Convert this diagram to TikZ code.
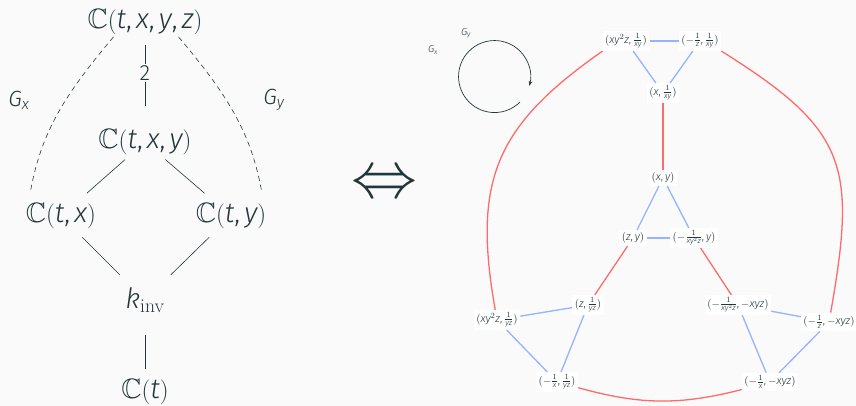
\documentclass[tikz,border=0pt]{standalone}
\usepackage{amsmath,amssymb}
\usepackage{fontspec}
\setmainfont{Fira Sans Light}[NFSSFamily=firasans, ItalicFont={Fira Sans Light Italic}, BoldFont={Fira Sans}]
\DeclareSymbolFont{sfitalic}{TU}{firasans}{m}{it}
\DeclareSymbolFont{sfupright}{TU}{firasans}{m}{n}
\DeclareMathSymbol{t}{\mathalpha}{sfitalic}{`t}
\DeclareMathSymbol{x}{\mathalpha}{sfitalic}{`x}
\DeclareMathSymbol{y}{\mathalpha}{sfitalic}{`y}
\DeclareMathSymbol{z}{\mathalpha}{sfitalic}{`z}
\DeclareMathSymbol{k}{\mathalpha}{sfitalic}{`k}
\DeclareMathSymbol{G}{\mathalpha}{sfitalic}{`G}
\DeclareMathSymbol{1}{\mathalpha}{sfupright}{`1}
\DeclareMathSymbol{2}{\mathalpha}{sfupright}{`2}
\DeclareMathSymbol{(}{\mathopen}{sfupright}{"28}
\DeclareMathSymbol{)}{\mathclose}{sfupright}{"29}
\DeclareMathSymbol{,}{\mathpunct}{sfupright}{"2C}
\newcommand{\lmtext}[1]{\text{\fontfamily{lmr}\selectfont #1}}
\usetikzlibrary{arrows.meta}
\definecolor{mbg}{HTML}{FAFAFA}
\definecolor{mteal}{HTML}{23373B}
\definecolor{ered}{HTML}{FF6B6B}
\definecolor{eblue}{HTML}{94B4FF}
\tikzset{
  field/.style={font=\fontsize{28}{32}\selectfont, inner sep=2pt},
  glabel/.style={font=\fontsize{22}{26}\selectfont, inner sep=2pt},
  orbit/.style={fill=white, inner sep=2.5pt, font=\fontsize{11}{13}\selectfont},
  redge/.style={draw=ered, line width=1.3pt},
  bedge/.style={draw=eblue, line width=1.3pt},
  tower/.style={line width=0.6pt, shorten <=4pt, shorten >=12pt},
  galois/.style={line width=0.6pt, dash pattern=on 5pt off 4pt}
}
\begin{document}
\begin{tikzpicture}[x=1pt,y=1pt,mteal]
  \fill[mbg] (0,0) rectangle (856,-406);
  \useasboundingbox (0,0) rectangle (856,-406);

  % Field tower
  \node[field] (ctxyz) at (145,-22) {$\mathbb{C}(t,x,y,z)$};
  \node[field] (ctxy) at (145,-142) {$\mathbb{C}(t,x,y)$};
  \node[field] (ctx) at (61,-216) {$\mathbb{C}(t,x)$};
  \node[field] (cty) at (231,-216) {$\mathbb{C}(t,y)$};
  \node[field] (kinv) at (145,-300) {$k_{\lmtext{inv}}$};
  \node[field] (ct) at (145,-392) {$\mathbb{C}(t)$};

  \draw[line width=0.6pt, shorten <=8pt, shorten >=21pt] (ctxyz) -- node[pos=0.4, fill=mbg, glabel] (deg) {2} (ctxy);
  \draw[tower] (ctxy) -- (ctx);
  \draw[tower] (ctxy) -- (cty);
  \draw[tower, shorten <=9pt, shorten >=15pt] (ctx) -- (kinv);
  \draw[tower, shorten <=9pt, shorten >=15pt] (cty) -- (kinv);
  \draw[tower, shorten <=20pt, shorten >=8pt] (kinv) -- (ct);

  \draw[galois, shorten >=9pt] ([xshift=28pt]ctxyz.south west) to[out=230, in=80] ([xshift=5pt]ctx.north west);
  \draw[galois, shorten >=9pt] ([xshift=-26pt]ctxyz.south east) to[out=-50, in=100] ([xshift=-5pt]cty.north east);
  \node[glabel] (gx) at (19,-100) {$G_x$};
  \node[glabel] (gy) at (274,-100) {$G_y$};

  % Equivalence
  \node (equiv) at (384,-185) {\scalebox{6.6}{$\Leftrightarrow$}};

  % Orbit graph
  \node[orbit] (A1) at (626,-41) {$(xy^2z,\frac{1}{xy})$};
  \node[orbit] (A2) at (700,-41) {$(-\frac{1}{z},\frac{1}{xy})$};
  \node[orbit] (A3) at (663,-93) {$(x,\frac{1}{xy})$};
  \node[orbit] (B1) at (663,-178) {$(x,y)$};
  \node[orbit] (B2) at (633,-238) {$(z,y)$};
  \node[orbit] (B3) at (694,-238) {$(-\frac{1}{xy^2z},y)$};
  \node[orbit] (C1) at (497,-320) {$(xy^2z,\frac{1}{yz})$};
  \node[orbit] (C2) at (588,-305) {$(z,\frac{1}{yz})$};
  \node[orbit] (C3) at (557,-382) {$(-\frac{1}{x},\frac{1}{yz})$};
  \node[orbit] (D1) at (738,-305) {$(-\frac{1}{xy^2z},-xyz)$};
  \node[orbit] (D2) at (829,-322) {$(-\frac{1}{z},-xyz)$};
  \node[orbit] (D3) at (770,-382) {$(-\frac{1}{x},-xyz)$};

  % Blue edges
  \foreach \a/\b in {A1/A2,A1/A3,A2/A3,B1/B2,B1/B3,B2/B3,C1/C2,C1/C3,C2/C3,D1/D2,D1/D3,D2/D3}
    \draw[bedge] (\a) -- (\b);

  % Red edges
  \draw[redge] (A3) -- (B1);
  \draw[redge] (B2) -- (C2);
  \draw[redge] (B3) -- (D1);
  \draw[redge] (A1.south west) to[out=215, in=100, looseness=1.2] (C1);
  \draw[redge] (A2.south east) to[out=-32, in=80, looseness=1.35] (D2);
  \draw[redge] (C3) to[bend right=15] (D3);

  % Generators
  \coordinate (loop) at (520,-102);
  \draw[line width=0.7pt, -{Stealth[length=5pt]}] (loop) arc[start angle=-45, end angle=-375, radius=36];
  \node[font=\fontsize{10}{12}\selectfont] (lgx) at (433,-50) {$G_x$};
  \node[font=\fontsize{10}{12}\selectfont] (lgy) at (466,-33) {$G_y$};
\end{tikzpicture}
\end{document}
